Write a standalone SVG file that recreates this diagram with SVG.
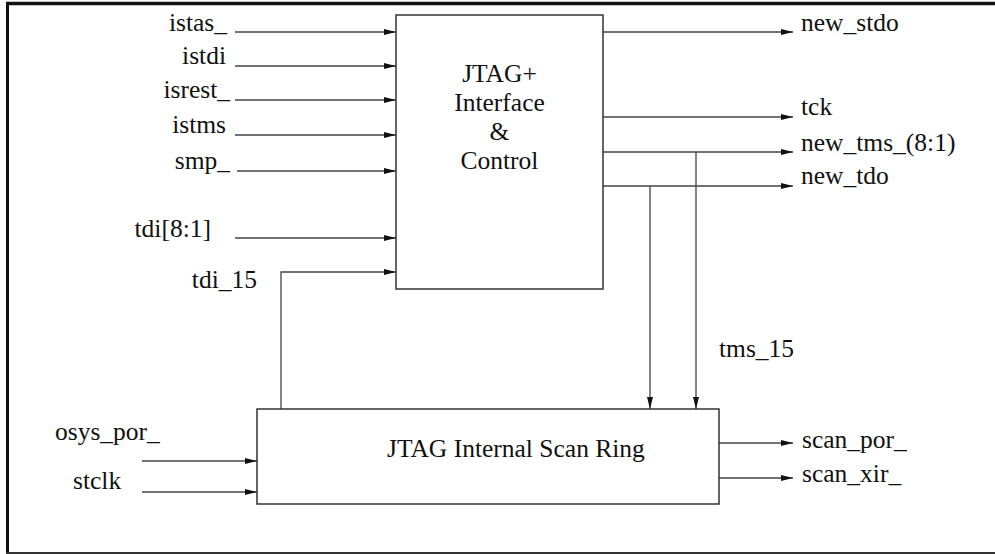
<svg xmlns="http://www.w3.org/2000/svg" width="995" height="554" viewBox="0 0 995 554" font-family="'Liberation Serif', 'DejaVu Serif', serif">
<style>
text{font-family:'Liberation Serif','DejaVu Serif',serif;font-size:25.5px;fill:#111}
.e{text-anchor:end}
.m{text-anchor:middle}
.box{fill:#fff;stroke:#333;stroke-width:1.5}
.w{fill:none;stroke:#444;stroke-width:1.3}
.a{marker-end:url(#ah)}
</style>
<defs>
<marker id="ah" markerUnits="userSpaceOnUse" markerWidth="12" markerHeight="6" refX="12" refY="3" orient="auto">
<path d="M0,0 L12,3 L0,6 z" fill="#111"/>
</marker>
</defs>
<g id="frame" fill="none" stroke="#111">
<line x1="6" y1="3.5" x2="995" y2="3.5" stroke-width="3.5"/>
<line x1="7.5" y1="2" x2="7.5" y2="554" stroke-width="3"/>
<line x1="6" y1="553" x2="995" y2="553" stroke-width="2" stroke="#333"/>
</g>
<g id="connectors">
<line class="w a" x1="235" y1="32" x2="396" y2="32"/>
<line class="w a" x1="235" y1="66" x2="396" y2="66"/>
<line class="w a" x1="235" y1="100" x2="396" y2="100"/>
<line class="w a" x1="235" y1="135" x2="396" y2="135"/>
<line class="w a" x1="237" y1="171" x2="396" y2="171"/>
<line class="w a" x1="235" y1="238" x2="396" y2="238"/>
<path class="w a" d="M281,409 V272 H396"/>
<line class="w a" x1="603" y1="32" x2="793" y2="32"/>
<line class="w a" x1="603" y1="117" x2="793" y2="117"/>
<line class="w a" x1="603" y1="152" x2="793" y2="152"/>
<line class="w a" x1="603" y1="186" x2="793" y2="186"/>
<line class="w a" x1="650" y1="186" x2="650" y2="409"/>
<line class="w a" x1="696" y1="152" x2="696" y2="409"/>
<line class="w a" x1="142" y1="461" x2="257" y2="461"/>
<line class="w a" x1="142" y1="492" x2="257" y2="492"/>
<line class="w a" x1="719" y1="443" x2="793" y2="443"/>
<line class="w a" x1="719" y1="478" x2="793" y2="478"/>
</g>
<g id="jtag_ctrl">
<rect class="box" x="396" y="15" width="207" height="274"/>
<text class="m" x="499.5" y="82">JTAG+</text>
<text class="m" x="499.5" y="111">Interface</text>
<text class="m" x="499.5" y="140">&amp;</text>
<text class="m" x="499.5" y="169">Control</text>
</g>
<g id="scan_ring">
<rect class="box" x="257" y="409" width="462" height="95"/>
<text x="387" y="457">JTAG Internal Scan Ring</text>
</g>
<g id="labels">
<text class="e" x="227" y="31">istas_</text>
<text class="e" x="226" y="64">istdi</text>
<text class="e" x="230" y="98">isrest_</text>
<text class="e" x="226" y="133">istms</text>
<text class="e" x="230" y="169">smp_</text>
<text class="e" x="211" y="237">tdi[8:1]</text>
<text class="e" x="257" y="288">tdi_15</text>
<text x="801" y="31">new_stdo</text>
<text x="801" y="115">tck</text>
<text x="801" y="151">new_tms_(8:1)</text>
<text x="801" y="184">new_tdo</text>
<text x="719" y="357">tms_15</text>
<text x="802" y="448">scan_por_</text>
<text x="802" y="482">scan_xir_</text>
<text x="55" y="440">osys_por_</text>
<text x="73" y="489">stclk</text>
</g>
</svg>
